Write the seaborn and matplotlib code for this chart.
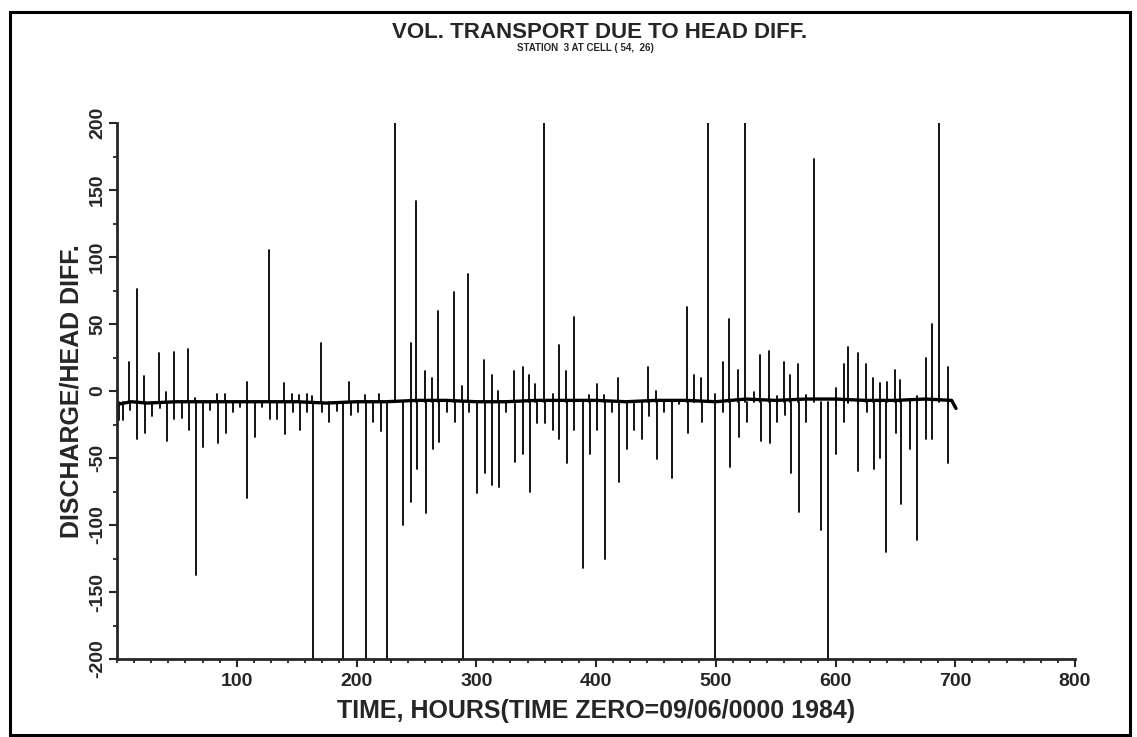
import numpy as np
import pandas as pd
import matplotlib.pyplot as plt
import matplotlib.ticker as mtick
import seaborn as sns

# spike tips: hour and discharge/head diff
spike_hours = [
    1.9, 4.7, 10.0, 10.9, 16.4, 17.0, 22.8, 23.1, 29.5, 35.1, 35.9, 40.6, 42.0,
    47.6, 47.9, 54.0, 59.6, 60.4, 65.1, 66.0, 72.1, 77.7, 83.8, 84.6, 90.2, 91.0,
    97.1, 102.7, 108.3, 108.8, 115.2, 120.8, 127.2, 127.8, 133.3, 139.1, 140.3,
    145.9, 146.7, 152.3, 152.8, 158.4, 158.9, 162.6, 163.9, 170.4, 170.9, 177.3,
    183.4, 189.0, 194.0, 195.1, 201.5, 207.1, 207.7, 214.0, 219.1, 220.2, 225.2,
    232.1, 238.5, 245.2, 245.8, 249.7, 250.8, 257.0, 257.7, 263.4, 264.0, 267.8,
    269.2, 275.3, 281.4, 281.9, 288.0, 288.9, 293.4, 294.2, 300.3, 306.3, 307.0,
    312.9, 313.4, 317.9, 319.2, 324.9, 331.6, 332.3, 338.8, 339.3, 344.4, 344.9,
    349.1, 350.5, 356.6, 357.2, 363.8, 364.4, 369.0, 369.5, 374.9, 375.5, 381.6,
    382.0, 389.1, 394.2, 395.1, 400.5, 401.0, 406.5, 407.2, 413.1, 418.7, 419.5,
    425.6, 432.0, 438.1, 443.7, 444.5, 450.1, 450.7, 456.9, 463.8, 469.4, 475.7,
    476.5, 481.5, 482.0, 487.4, 488.2, 493.8, 499.1, 499.7, 505.9, 506.3, 511.1,
    511.9, 518.9, 519.4, 524.7, 525.8, 531.8, 537.1, 537.9, 544.3, 544.9, 551.0,
    551.5, 556.9, 557.5, 562.4, 563.0, 568.9, 569.6, 575.0, 575.5, 581.9, 587.5,
    593.6, 600.0, 600.4, 606.7, 607.2, 610.3, 610.8, 618.7, 619.2, 625.8, 626.3,
    631.7, 632.2, 636.8, 637.3, 642.5, 643.3, 650.1, 650.6, 654.0, 654.6, 662.0,
    662.5, 667.8, 668.4, 675.3, 675.8, 680.3, 680.9, 686.6, 693.7, 694.2,
]
spike_values = [
    -22, -22, 22, -14, 76, -36, 11, -31, -19, 28, -13, -1, -37,
    29, -21, -20, 31, -29, -5, -137, -42, -14, -2, -39, -2, -31,
    -16, -12, 7, -80, -34, -12, 105, -21, -21, 6, -32,
    -2, -16, -3, -29, -2, -16, -4, -200, 36, -16, -23,
    -15, -200, 7, -18, -16, -3, -200, -23, -2, -30, -200,
    200, -100, 36, -83, 142, -58, 15, -91, 10, -43, 60,
    -38, -16, 74, -23, 4, -200, 87, -16, -76, 23, -61,
    12, -70, 0, -72, -16, 15, -53, 18, -47, 12, -75,
    5, -24, 200, -24, -2, -29, 34, -36, 15, -54, 55,
    -29, -132, -3, -47, 5, -29, -3, -125, -16, 10, -68,
    -43, -29, -36, 18, -19, 0, -51, -16, -65, -10, 63,
    -31, 12, -5, 10, -23, 200, -2, -200, 22, -16, 54,
    -57, 16, -34, 200, -23, -1, 27, -37, 30, -39, -4,
    -23, 22, -18, 12, -61, 20, -90, -3, -23, 173, -104,
    -200, 2, -47, 20, -23, 33, -9, 28, -60, 20, -16,
    10, -58, 6, -50, -120, 7, 16, -31, 8, -84, -6,
    -43, -111, -4, 25, -36, 50, -36, 200, 18, -54,
]

# quiet level of the trace between the spikes
baseline_hours = [0, 12, 25, 50, 75, 100, 125, 150, 175, 200, 225, 250, 275, 300, 325,
                  350, 375, 400, 425, 450, 475, 500, 525, 550, 575, 600, 625, 650, 675,
                  697, 700.6]
baseline_values = [-10, -8, -9, -8, -8, -8, -8, -8, -9, -8, -8, -7, -7, -8, -8,
                   -7, -7, -7, -8, -7, -7, -8, -6, -7, -6, -6, -7, -7, -6,
                   -7, -13]
base_level = -8

x_ticks = [100, 200, 300, 400, 500, 600, 700, 800]
y_ticks = [-200, -150, -100, -50, 0, 50, 100, 150, 200]

sns.set_style('ticks')
plt.rcParams['font.family'] = ['Liberation Sans', 'DejaVu Sans']
plt.rcParams['font.weight'] = 'bold'
plt.rcParams['axes.unicode_minus'] = False

spikes = pd.DataFrame({'hour': spike_hours, 'value': spike_values})
spikes['spike'] = range(len(spikes))
spike_long = pd.concat([spikes.assign(value=base_level), spikes], ignore_index=True)
spike_long = spike_long.sort_values('spike', kind='stable')

fig = plt.figure(figsize=(11.37, 7.37), dpi=100)
ax = fig.add_axes([117 / 1137, 1 - 659 / 737, 958 / 1137, 536 / 737])

sns.lineplot(
    data=spike_long, x='hour', y='value', units='spike', estimator=None,
    sort=False, color='black', linewidth=1.3, ax=ax
)
sns.lineplot(x=baseline_hours, y=baseline_values, color='black', linewidth=2.4, ax=ax)

ax.set_xlim(0, 800)
ax.set_ylim(-200, 200)
ax.set_xticks(x_ticks)
ax.set_yticks(y_ticks)
ax.xaxis.set_minor_locator(mtick.MultipleLocator(100 / 7))
ax.yaxis.set_minor_locator(mtick.MultipleLocator(25))

for loc in ['top', 'right']:
    ax.spines[loc].set_visible(False)
for loc in ['left', 'bottom']:
    ax.spines[loc].set_linewidth(2)

ax.tick_params(axis='both', which='major', direction='out', length=6, width=1.5, labelsize=14)
ax.tick_params(axis='both', which='minor', direction='out', length=3, width=1.3)
ax.tick_params(axis='x', which='major', pad=4)
ax.tick_params(axis='y', which='major', pad=2)
for lab in ax.get_yticklabels():
    lab.set_rotation(90)
    lab.set_va('center')
    lab.set_ha('right')
for lab in ax.get_xticklabels() + ax.get_yticklabels():
    lab.set_fontweight('bold')

ax.set_xlabel('TIME, HOURS(TIME ZERO=09/06/0000 1984)', fontsize=18, fontweight='bold', va='center')
ax.set_ylabel('DISCHARGE/HEAD DIFF.', fontsize=18, fontweight='bold', va='center')
ax.xaxis.set_label_coords(0.5, -0.097)
ax.yaxis.set_label_coords(-0.047, 0.5)

fig.text(600 / 1137, 1 - 38 / 737, 'VOL. TRANSPORT DUE TO HEAD DIFF.',
         ha='center', va='baseline', fontsize=16, fontweight='bold')
fig.text(585 / 1137, 1 - 48 / 737, 'STATION  3 AT CELL ( 54,  26)',
         ha='center', va='center', fontsize=7, fontweight='heavy')

# outer frame round the whole sheet
fig.add_artist(plt.Rectangle((10 / 1137, 2 / 737), 1120 / 1137, 723 / 737,
                             transform=fig.transFigure, fill=False,
                             linewidth=2.2, edgecolor='black'))

fig.savefig('out.png', dpi=100, facecolor='white')
